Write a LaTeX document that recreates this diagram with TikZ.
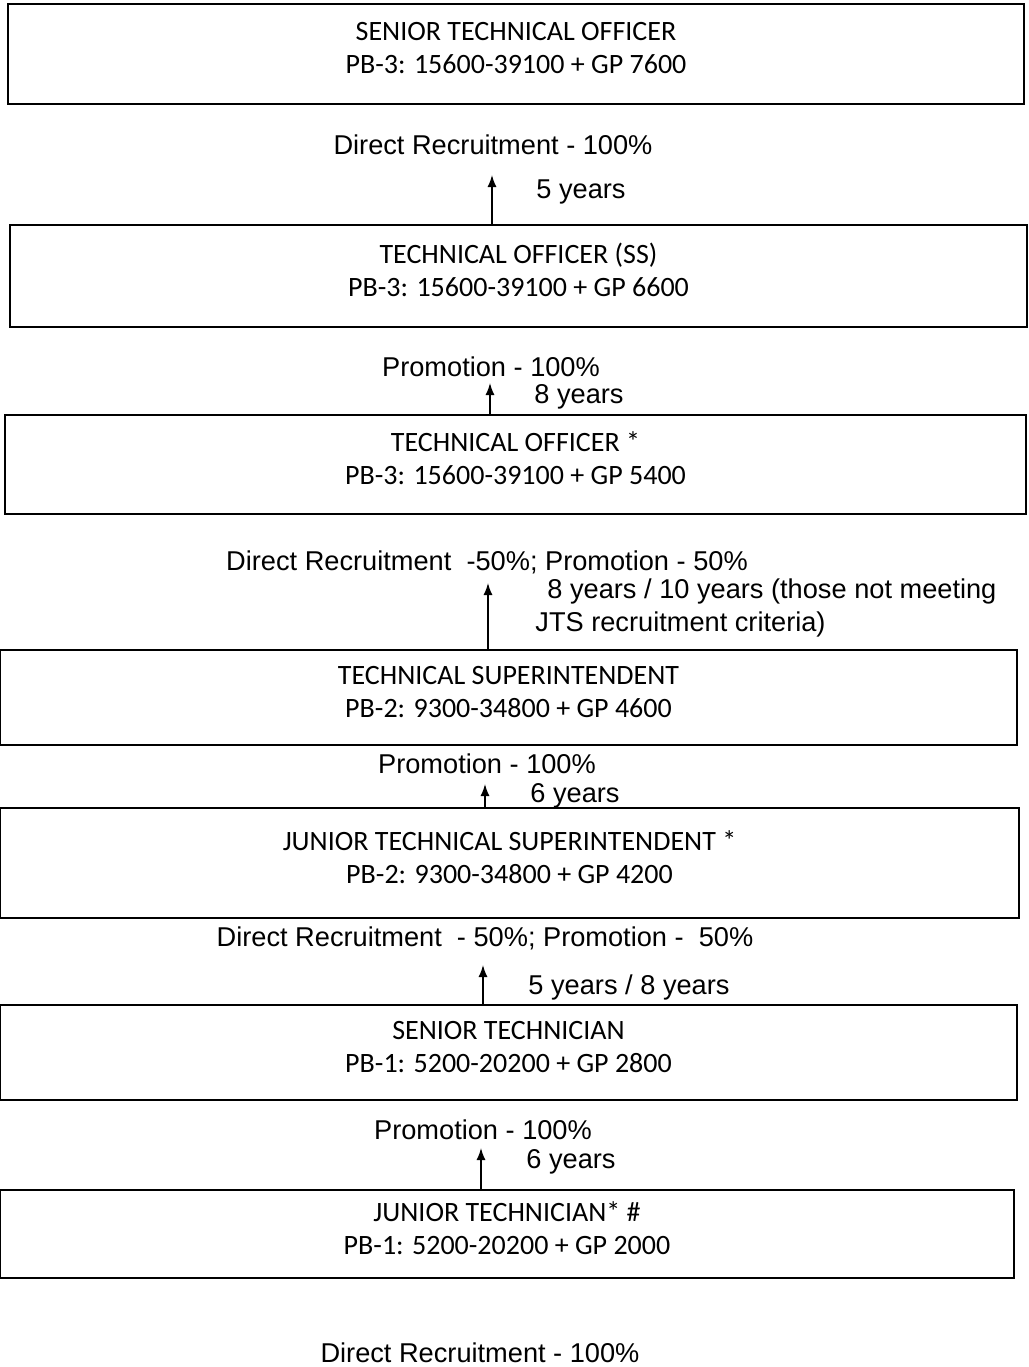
\documentclass[tikz,border=0pt]{standalone}
\usepackage{fontspec}
\setmainfont{Liberation Sans}
\newfontfamily\postfont{Carlito}
\usetikzlibrary{positioning, arrows.meta}

\tikzset{
  post/.style={draw, line width=0.9pt, align=center, inner sep=0pt, text depth=6pt,
    font=\postfont\fontsize{14}{16.5}\selectfont},
  route/.style={inner sep=0pt, font=\fontsize{13.6}{15}\selectfont},
  up/.style={-{Latex[length=6pt,width=4.5pt]}, line width=0.7pt}
}

\begin{document}
\begin{tikzpicture}[x=0.5pt,y=-0.5pt]
\useasboundingbox (0,0) rectangle (1029,1367);

% Posts (top to bottom)
\node[post, minimum width=508pt, minimum height=50pt] (sto) at (516,54)
  {SENIOR TECHNICAL OFFICER\\PB-3: 15600-39100 + GP 7600};
\node[post, minimum width=508.5pt, minimum height=51pt] (toss) at (518.5,276)
  {TECHNICAL OFFICER (SS)\\PB-3: 15600-39100 + GP 6600};
\node[post, minimum width=510.5pt, minimum height=49.5pt] (to) at (515.5,464.5)
  {TECHNICAL OFFICER *\\PB-3: 15600-39100 + GP 5400};
\node[post, minimum width=508.5pt, minimum height=47.5pt] (ts) at (508.5,697.5)
  {TECHNICAL SUPERINTENDENT\\PB-2: 9300-34800 + GP 4600};
\node[post, minimum width=509.5pt, minimum height=55pt] (jts) at (509.5,863)
  {JUNIOR TECHNICAL SUPERINTENDENT *\\PB-2: 9300-34800 + GP 4200};
\node[post, minimum width=508.5pt, minimum height=47.5pt] (st) at (508.5,1052.5)
  {SENIOR TECHNICIAN\\PB-1: 5200-20200 + GP 2800};
\node[post, minimum width=507pt, minimum height=44pt] (jt) at (507,1234)
  {JUNIOR TECHNICIAN* \#\\PB-1: 5200-20200 + GP 2000};

% Mode of filling each post
\node[route] (dr1) at (493,145) {Direct Recruitment - 100\%};
\node[route] (pr1) at (491,367) {Promotion - 100\%};
\node[route] (mix1) at (487,562) {Direct Recruitment\ \ -50\%; Promotion - 50\%};
\node[route] (pr2) at (487,764) {Promotion - 100\%};
\node[route] (mix2) at (485,938) {Direct Recruitment\ \ - 50\%; Promotion -\ \ 50\%};
\node[route] (pr3) at (483,1130) {Promotion - 100\%};
\node[route] (dr2) at (480,1353) {Direct Recruitment - 100\%};

% Service needed
\node[route] (y1) at (581,192) {5 years};
\node[route] (y2) at (579,397) {8 years};
\node[route, anchor=west] (y3) at (547,591) {8 years / 10 years (those not meeting};
\node[route, anchor=west] (y3b) at (535,624) {JTS recruitment criteria)};
\node[route] (y4) at (575,796) {6 years};
\node[route] (y5) at (629,987) {5 years / 8 years};
\node[route] (y6) at (571,1162) {6 years};

% Arrows
\coordinate (a1) at (492,175);
\coordinate (a2) at (490,383);
\coordinate (a3) at (488,583);
\coordinate (a4) at (485,784);
\coordinate (a5) at (483,965);
\coordinate (a6) at (481,1148);
\draw[up] (toss.north -| a1) -- (a1);
\draw[up] (to.north -| a2) -- (a2);
\draw[up] (ts.north -| a3) -- (a3);
\draw[up] (jts.north -| a4) -- (a4);
\draw[up] (st.north -| a5) -- (a5);
\draw[up] (jt.north -| a6) -- (a6);

\end{tikzpicture}
\end{document}
